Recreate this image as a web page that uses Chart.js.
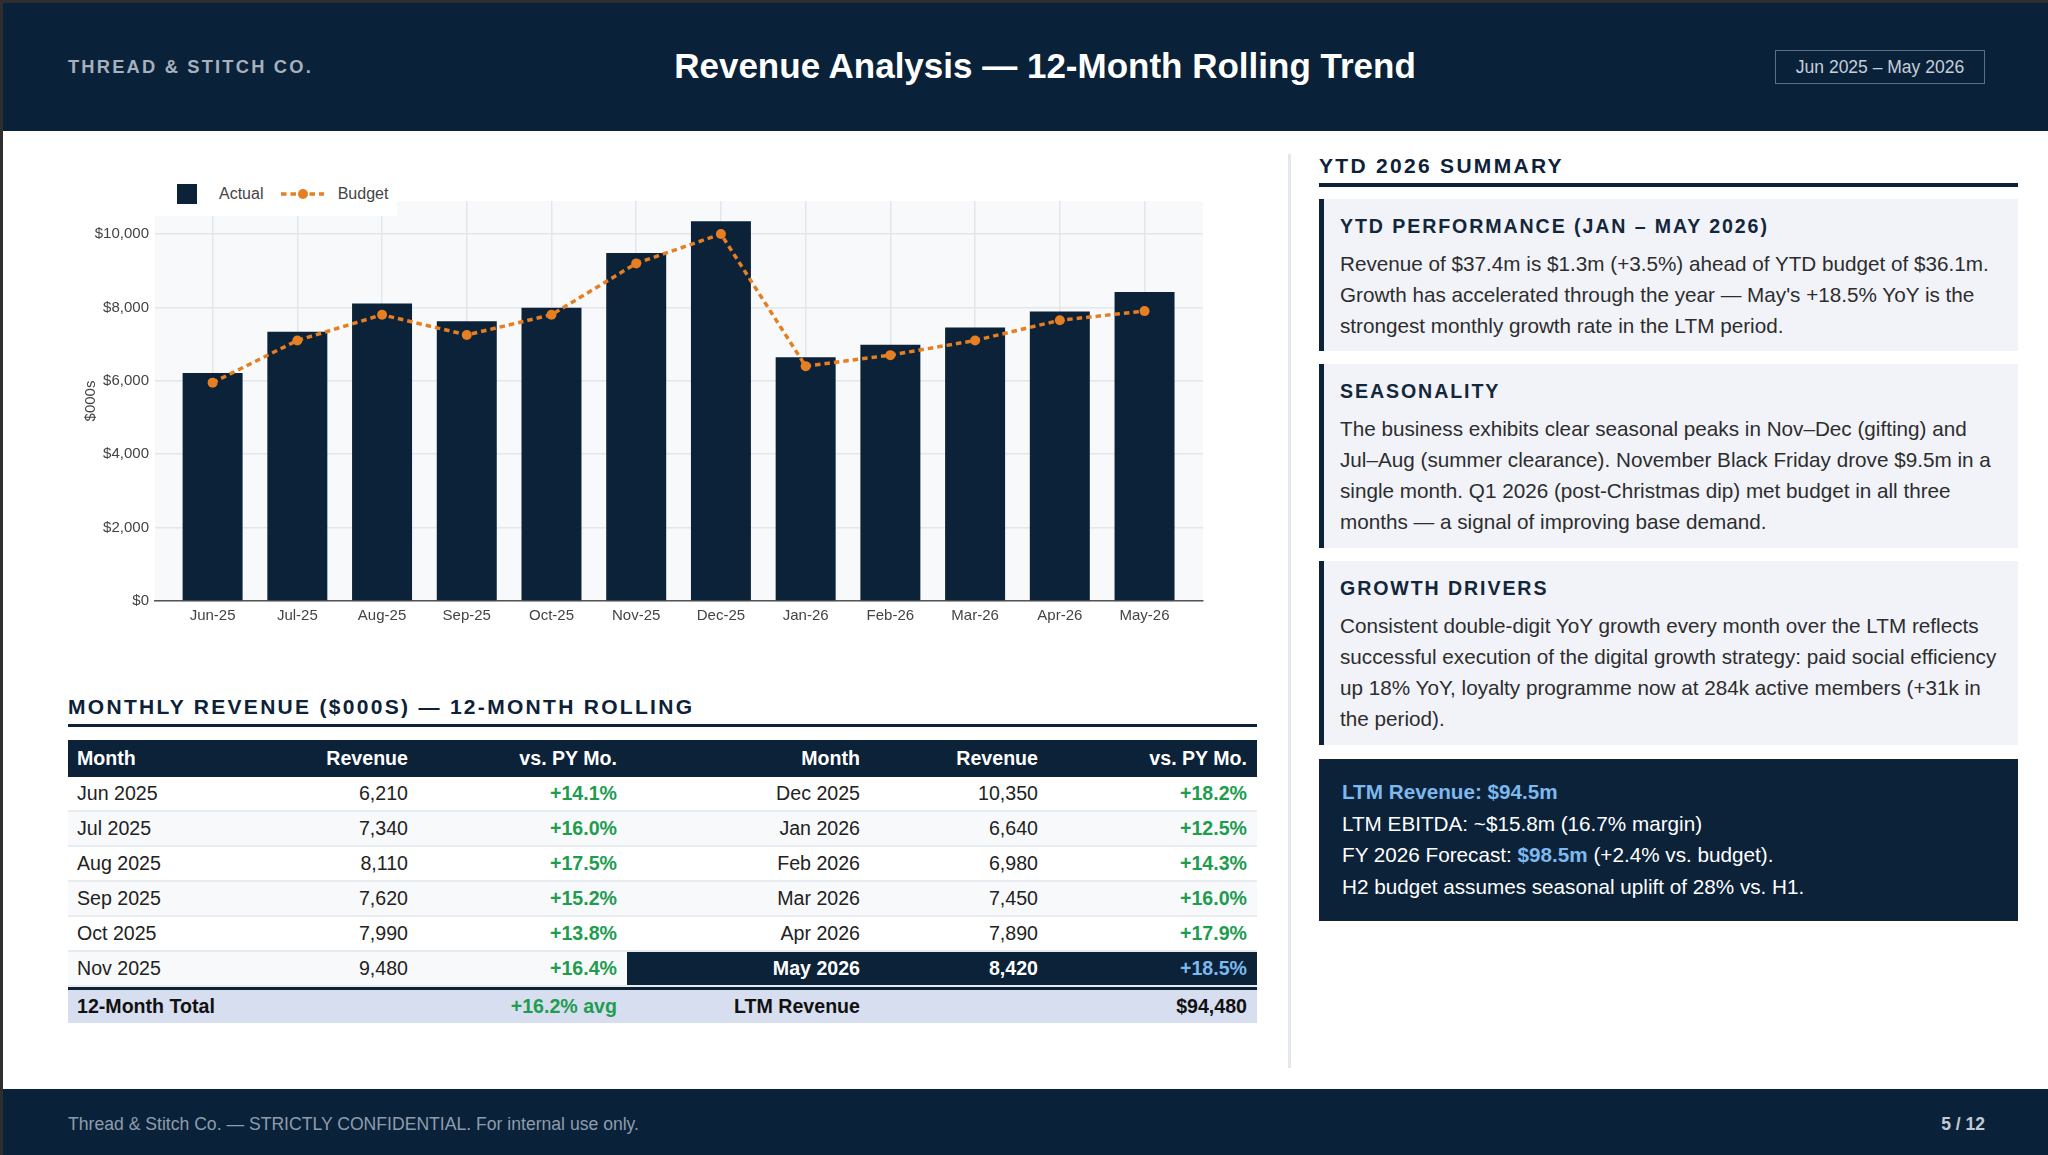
<!DOCTYPE html>
<html>
<head>
<meta charset="utf-8">
<script src="https://cdn.jsdelivr.net/npm/chart.js@4.4.1/dist/chart.umd.min.js"></script>
<style>
*{margin:0;padding:0;box-sizing:border-box}
html,body{width:2048px;height:1155px;overflow:hidden;background:#fff;font-family:'Liberation Sans',Arial,Helvetica,sans-serif}
.abs{position:absolute}
#frameL{left:0;top:0;width:3px;height:1155px;background:#2e2e2e}
#frameT{left:0;top:0;width:2048px;height:3px;background:#2e2e2e}
#header{left:3px;top:3px;width:2045px;height:128px;background:#0a2239}
#company{left:68px;top:57px;font-size:18.3px;font-weight:bold;letter-spacing:2.2px;color:#a6b1bd;line-height:20px;white-space:nowrap}
#title{left:1045px;top:45px;transform:translateX(-50%);font-size:35px;font-weight:bold;color:#fff;line-height:42px;white-space:nowrap}
#datebox{left:1775px;top:50px;width:210px;height:34px;border:1.5px solid #5b6f86;color:#c6cfd9;font-size:17.5px;display:flex;align-items:center;justify-content:center;white-space:nowrap}
#footer{left:3px;top:1089px;width:2045px;height:66px;background:#0a2239}
#foottext{left:68px;top:1114px;line-height:20px;font-size:17.6px;color:#8f9cac;white-space:nowrap}
#pagenum{left:1885px;width:100px;text-align:right;top:1114px;line-height:20px;font-size:17.5px;font-weight:bold;color:#c2cbd5}
#chartbox{left:68px;top:154px;width:1189px;height:480px}
#legend{left:155px;top:172px;width:242px;height:44px;background:#fff;display:flex;align-items:center;padding-left:22px;font-size:16px;color:#444}
.lg-item{display:flex;align-items:center}
.lg-text{line-height:20px}
#divider{left:1288px;top:154px;width:3px;height:914px;background:#e3e8ef}
.sectitle{font-size:21px;font-weight:bold;letter-spacing:2.3px;color:#0d2138;line-height:24px;white-space:nowrap}
#tbltitle{left:68px;top:694.5px}
#tblline{left:68px;top:724px;width:1189px;height:3px;background:#0d2138}
#table{left:68px;top:740px;width:1189px;font-size:19.6px;color:#222}
.row{display:grid;grid-template-columns:182px 168px 209px 243px 178px 209px;height:35px;border-bottom:2px solid #e8ebf0}
.row>div{display:flex;align-items:center;justify-content:flex-end;padding-right:10px;white-space:nowrap}
.row>div.l{justify-content:flex-start;padding-left:9px;padding-right:0}
.row.even{background:#f8f9fb}
.row.head{height:37px;background:#0b2239;color:#fff;font-weight:bold;border-bottom:none}
.pos{color:#1f9d4f;font-weight:bold}
.hl{background:#0b2239;color:#fff;font-weight:bold}
.hl.pct{color:#7db8ee}
.row.total{height:36px;background:#d6deef;border-top:3px solid #0b2239;border-bottom:none;font-weight:bold;color:#111}
#ytdtitle{left:1319px;top:154px}
#ytdline{left:1319px;top:183px;width:699px;height:4px;background:#0d2138}
.card{left:1319px;width:699px;background:#f1f3f9;border-left:5px solid #0d2138;padding:13.5px 16px 10px 16px}
.card h3{font-size:19.6px;font-weight:bold;letter-spacing:1.9px;color:#13263a;line-height:26px;margin-bottom:9px;white-space:nowrap}
.card p{font-size:20.7px;line-height:31.3px;color:#2d2d2d;white-space:nowrap}
#kpi{left:1319px;top:759px;width:699px;height:162px;background:#0b2239;padding:17px 23px;color:#fff;font-size:20.7px;line-height:31.5px;white-space:nowrap}
.blue{color:#7db8ee;font-weight:bold}
</style>
</head>
<body>
<div id="frameT" class="abs"></div>
<div id="frameL" class="abs"></div>
<div id="header" class="abs"></div>
<div id="company" class="abs">THREAD &amp; STITCH CO.</div>
<div id="title" class="abs">Revenue Analysis — 12-Month Rolling Trend</div>
<div id="datebox" class="abs">Jun 2025 – May 2026</div>

<div id="chartbox" class="abs"><canvas id="chart"></canvas></div>
<div id="legend" class="abs"></div>

<div id="tbltitle" class="abs sectitle">MONTHLY REVENUE ($000S) — 12-MONTH ROLLING</div>
<div id="tblline" class="abs"></div>
<div id="table" class="abs"></div>

<div id="divider" class="abs"></div>

<div id="ytdtitle" class="abs sectitle">YTD 2026 SUMMARY</div>
<div id="ytdline" class="abs"></div>

<div class="abs card" style="top:199px;height:152px">
<h3>YTD PERFORMANCE (JAN – MAY 2026)</h3>
<p>Revenue of $37.4m is $1.3m (+3.5%) ahead of YTD budget of $36.1m.<br>Growth has accelerated through the year — May's +18.5% YoY is the<br>strongest monthly growth rate in the LTM period.</p>
</div>
<div class="abs card" style="top:364px;height:184px">
<h3>SEASONALITY</h3>
<p>The business exhibits clear seasonal peaks in Nov–Dec (gifting) and<br>Jul–Aug (summer clearance). November Black Friday drove $9.5m in a<br>single month. Q1 2026 (post-Christmas dip) met budget in all three<br>months — a signal of improving base demand.</p>
</div>
<div class="abs card" style="top:561px;height:184px">
<h3>GROWTH DRIVERS</h3>
<p>Consistent double-digit YoY growth every month over the LTM reflects<br>successful execution of the digital growth strategy: paid social efficiency<br>up 18% YoY, loyalty programme now at 284k active members (+31k in<br>the period).</p>
</div>
<div id="kpi" class="abs">
<div class="blue">LTM Revenue: $94.5m</div>
<div>LTM EBITDA: ~$15.8m (16.7% margin)</div>
<div>FY 2026 Forecast: <span class="blue">$98.5m</span> (+2.4% vs. budget).</div>
<div>H2 budget assumes seasonal uplift of 28% vs. H1.</div>
</div>

<div id="footer" class="abs"></div>
<div id="foottext" class="abs">Thread &amp; Stitch Co. — STRICTLY CONFIDENTIAL. For internal use only.</div>
<div id="pagenum" class="abs">5 / 12</div>

<script>
// ---- Data ----
const categories = ['Jun-25','Jul-25','Aug-25','Sep-25','Oct-25','Nov-25','Dec-25','Jan-26','Feb-26','Mar-26','Apr-26','May-26'];
const tableMonths = ['Jun 2025','Jul 2025','Aug 2025','Sep 2025','Oct 2025','Nov 2025','Dec 2025','Jan 2026','Feb 2026','Mar 2026','Apr 2026','May 2026'];
const actualRevenue = [6210,7340,8110,7620,7990,9480,10350,6640,6980,7450,7890,8420];
const budgetRevenue = [5950,7100,7800,7250,7800,9200,10000,6400,6700,7100,7650,7900];
const yoyGrowth = [14.1,16.0,17.5,15.2,13.8,16.4,18.2,12.5,14.3,16.0,17.9,18.5];
const yTickValues = [0,2000,4000,6000,8000,10000];
const tableHeaders = ['Month','Revenue','vs. PY Mo.','Month','Revenue','vs. PY Mo.'];
const totalLabel = '12-Month Total';
const avgGrowthText = '+16.2% avg';
const ltmLabel = 'LTM Revenue';

const NAVY = '#0b2239';
const ORANGE = '#e67e22';

Chart.defaults.font.family = "'Liberation Sans', Arial, Helvetica, sans-serif";

const plotBg = {
  id: 'plotBg',
  beforeDraw(chart) {
    const {ctx, chartArea: a} = chart;
    ctx.save();
    ctx.fillStyle = '#f8f9fb';
    ctx.fillRect(a.left, a.top, a.right - a.left, a.bottom - a.top);
    ctx.restore();
  }
};

const htmlLegend = {
  id: 'htmlLegend',
  afterUpdate(chart) {
    const box = document.getElementById('legend');
    box.innerHTML = '';
    chart.data.datasets.forEach((ds, i) => {
      const item = document.createElement('div');
      item.className = 'lg-item';
      if (i > 0) item.style.marginLeft = '17.5px';
      let sym;
      if (ds.type === 'line') {
        sym = document.createElementNS('http://www.w3.org/2000/svg', 'svg');
        sym.setAttribute('width', '43'); sym.setAttribute('height', '12');
        sym.innerHTML = '<line x1="0" y1="6" x2="43" y2="6" stroke="' + ds.borderColor + '" stroke-width="3.5" stroke-dasharray="5.5 4"/>' +
          '<circle cx="22" cy="6" r="5" fill="' + ds.borderColor + '"/>';
        sym.style.marginRight = '13.7px';
      } else {
        sym = document.createElement('div');
        sym.style.cssText = 'width:20px;height:20px;margin-right:22px;background:' + ds.backgroundColor;
      }
      const t = document.createElement('span');
      t.className = 'lg-text';
      t.textContent = ds.label;
      item.appendChild(sym); item.appendChild(t);
      box.appendChild(item);
    });
  }
};

new Chart(document.getElementById('chart'), {
  type: 'bar',
  data: {
    datasets: [
      {
        type: 'bar', label: 'Actual',
        data: actualRevenue.map((v, i) => ({x: i, y: v})),
        backgroundColor: NAVY, barPercentage: 0.708, categoryPercentage: 1, order: 2
      },
      {
        type: 'line', label: 'Budget',
        data: budgetRevenue.map((v, i) => ({x: i, y: v})),
        borderColor: ORANGE, backgroundColor: ORANGE, borderWidth: 3.5, borderDash: [5.5, 4],
        pointRadius: 5, pointBackgroundColor: ORANGE, pointBorderWidth: 0, tension: 0, order: 1
      }
    ]
  },
  options: {
    responsive: true, maintainAspectRatio: false, animation: false,
    layout: {padding: {top: 47, left: 14, right: 54, bottom: 0}},
    plugins: {legend: {display: false}, tooltip: {enabled: false}},
    scales: {
      x: {
        type: 'linear', min: -0.68, max: 11.69, offset: false,
        afterBuildTicks: (a) => { a.ticks = categories.map((_, i) => ({value: i})); },
        afterFit: (s) => { s.height = 33; },
        ticks: {callback: (v) => categories[v], font: {size: 15}, color: '#444', padding: 6, autoSkip: false, maxRotation: 0},
        grid: {color: '#e3e6eb', lineWidth: 1.5, drawTicks: false, offset: false},
        border: {display: true, color: '#555', width: 1.5}
      },
      y: {
        min: 0, max: 10900,
        afterBuildTicks: (a) => { a.ticks = yTickValues.map(v => ({value: v})); },
        afterFit: (s) => { s.width = 73; },
        ticks: {callback: (v) => '$' + v.toLocaleString('en-US'), font: {size: 15}, color: '#444', padding: 6},
        grid: {color: '#e3e6eb', lineWidth: 1.5, drawTicks: false},
        border: {display: false},
        title: {display: true, text: '$000s', font: {size: 15}, color: '#444', padding: 0}
      }
    }
  },
  plugins: [plotBg, htmlLegend]
});

// ---- Table ----
const fmtNum = (v) => v.toLocaleString('en-US');
const fmtPct = (v) => '+' + v.toFixed(1) + '%';
const table = document.getElementById('table');
function cell(text, cls) { return '<div class="' + (cls || '') + '">' + text + '</div>'; }
let html = '<div class="row head">' + tableHeaders.map((h, i) => cell(h, i === 0 ? 'l' : '')).join('') + '</div>';
const half = 6;
for (let r = 0; r < half; r++) {
  const j = r + half;
  const last = j === tableMonths.length - 1;
  const rc = last ? 'hl' : '';
  html += '<div class="row' + (r % 2 === 1 ? ' even' : '') + '">' +
    cell(tableMonths[r], 'l') + cell(fmtNum(actualRevenue[r])) + cell(fmtPct(yoyGrowth[r]), 'pos') +
    cell(tableMonths[j], rc) + cell(fmtNum(actualRevenue[j]), rc) + cell(fmtPct(yoyGrowth[j]), last ? 'hl pct' : 'pos') +
    '</div>';
}
const ltmTotal = actualRevenue.reduce((a, b) => a + b, 0);
html += '<div class="row total">' + cell(totalLabel, 'l') + cell('') + cell(avgGrowthText, 'pos') +
  cell(ltmLabel) + cell('') + cell('$' + fmtNum(ltmTotal)) + '</div>';
table.innerHTML = html;
</script>
</body>
</html>
